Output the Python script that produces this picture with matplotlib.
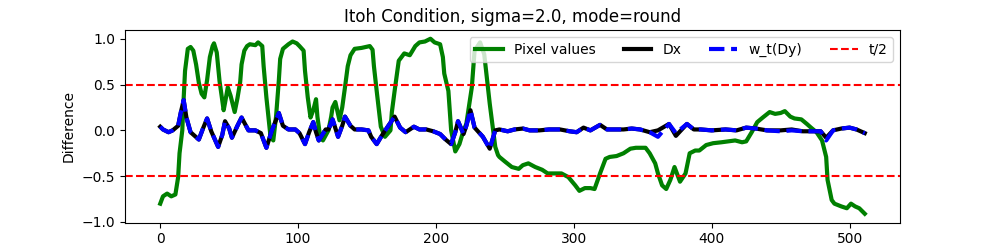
import matplotlib
matplotlib.use("Agg")
import matplotlib.pyplot as plt

# Pixel values (green)
px_x = [0, 2, 5, 7, 8, 11, 13, 14, 16, 17, 18, 20, 22, 24, 26, 28, 30, 32, 34, 36, 38, 39, 41, 43,
        46, 47, 49, 51, 54, 56, 58, 59, 61, 63, 65, 69, 71, 74, 75, 77, 80, 82, 84, 86, 87, 89, 93,
        96, 99, 101, 104, 105, 107, 109, 111, 113, 114, 116, 118, 122, 124, 125, 127, 130, 132, 134,
        136, 138, 141, 146, 152, 154, 155, 157, 160, 163, 167, 168, 170, 172, 173, 177, 181, 185,
        188, 192, 196, 199, 203, 205, 206, 209, 211, 214, 217, 220, 222, 226, 228, 232, 235, 239,
        243, 245, 246, 250, 255, 260, 263, 267, 272, 277, 281, 286, 291, 296, 301, 304, 308, 312,
        315, 319, 323, 326, 331, 336, 341, 345, 352, 355, 359, 361, 364, 367, 370, 373, 377, 381,
        384, 388, 391, 396, 401, 407, 412, 417, 422, 425, 429, 433, 437, 442, 446, 450, 453, 457,
        460, 465, 469, 472, 476, 480, 483, 484, 487, 489, 494, 498, 501, 504, 507, 511]
px_v = [-0.80, -0.72, -0.69, -0.71, -0.72, -0.70, -0.51, -0.25, 0.00, 0.35, 0.65, 0.89, 0.91, 0.87,
        0.72, 0.52, 0.40, 0.36, 0.55, 0.80, 0.92, 0.95, 0.85, 0.54, 0.22, 0.30, 0.47, 0.38, 0.20,
        0.35, 0.53, 0.72, 0.87, 0.92, 0.94, 0.93, 0.96, 0.92, 0.70, 0.36, -0.07, -0.11, 0.15, 0.54,
        0.78, 0.89, 0.94, 0.97, 0.95, 0.92, 0.87, 0.65, 0.36, 0.14, 0.22, 0.34, 0.15, -0.07, -0.11,
        0.00, 0.15, 0.25, 0.31, 0.11, 0.25, 0.47, 0.70, 0.82, 0.89, 0.90, 0.92, 0.88, 0.70, 0.43,
        0.04, -0.07, 0.00, 0.20, 0.43, 0.65, 0.76, 0.84, 0.82, 0.92, 0.96, 0.97, 1.00, 0.96, 0.94,
        0.80, 0.62, 0.43, 0.00, -0.23, -0.15, 0.00, 0.07, 0.47, 0.87, 0.96, 0.83, 0.29, -0.18,
        -0.27, -0.29, -0.34, -0.40, -0.42, -0.38, -0.36, -0.40, -0.43, -0.47, -0.47, -0.47, -0.51,
        -0.60, -0.66, -0.63, -0.63, -0.64, -0.47, -0.31, -0.29, -0.28, -0.25, -0.20, -0.19, -0.19,
        -0.25, -0.36, -0.47, -0.60, -0.64, -0.54, -0.40, -0.56, -0.47, -0.25, -0.22, -0.22, -0.16,
        -0.14, -0.13, -0.12, -0.11, -0.13, -0.12, -0.02, 0.09, 0.14, 0.20, 0.18, 0.19, 0.21, 0.15,
        0.13, 0.12, 0.07, 0.03, -0.02, -0.11, -0.29, -0.54, -0.76, -0.80, -0.83, -0.85, -0.80,
        -0.83, -0.85, -0.91]

# Dx (black) and w_t(Dy) (blue) share sample positions
d_x = [0, 2, 6, 9, 13, 15, 17, 19, 22, 25, 28, 31, 34, 37, 42, 45, 47, 50, 52, 56, 59, 64, 69, 73,
       77, 81, 86, 89, 93, 98, 101, 105, 108, 111, 113, 115, 120, 122, 125, 129, 132, 134, 138, 141,
       146, 151, 153, 157, 161, 165, 170, 174, 178, 184, 188, 193, 198, 203, 207, 211, 214, 216, 220,
       222, 225, 228, 231, 234, 239, 243, 246, 252, 257, 263, 268, 275, 282, 290, 297, 302, 307, 312,
       319, 324, 330, 336, 342, 348, 355, 361, 369, 374, 382, 387, 392, 400, 410, 418, 425, 432, 440,
       450, 458, 466, 479, 483, 488, 494, 500, 505, 511]
dx_v = [0.04, 0.01, -0.02, 0.00, 0.05, 0.20, 0.33, 0.14, -0.02, -0.06, -0.10, 0.02, 0.13, -0.01,
        -0.18, -0.05, 0.10, 0.02, -0.08, 0.05, 0.14, 0.00, 0.00, -0.03, -0.19, 0.00, 0.19, 0.05,
        0.01, 0.01, -0.03, -0.15, -0.02, 0.09, -0.02, -0.11, 0.01, 0.01, 0.12, -0.07, 0.05, 0.15,
        0.05, 0.01, 0.01, 0.00, -0.07, -0.15, -0.05, 0.04, 0.15, 0.03, -0.02, 0.04, 0.01, 0.01,
        -0.01, -0.04, -0.10, -0.15, -0.02, 0.10, -0.04, 0.05, 0.22, 0.03, -0.02, -0.07, -0.20,
        0.00, 0.01, -0.01, 0.01, 0.02, 0.00, 0.00, 0.01, 0.01, -0.01, -0.02, 0.03, 0.00, 0.06,
        0.01, 0.01, 0.01, 0.02, 0.01, -0.02, 0.00, 0.07, -0.06, 0.07, 0.01, 0.01, 0.00, 0.01,
        0.00, 0.03, 0.02, 0.00, 0.00, 0.01, -0.01, -0.01, -0.08, 0.00, 0.02, 0.03, 0.01, -0.03]
dy_v = [0.04, 0.01, -0.02, 0.00, 0.05, 0.20, 0.33, 0.14, -0.02, -0.06, -0.10, 0.02, 0.13, -0.01,
        -0.18, -0.05, 0.10, 0.02, -0.08, 0.05, 0.14, 0.00, 0.00, -0.03, -0.19, 0.00, 0.19, 0.05,
        0.01, 0.01, -0.03, -0.15, -0.02, 0.09, -0.02, -0.11, 0.01, 0.01, 0.12, -0.07, 0.05, 0.15,
        0.05, 0.01, 0.01, 0.00, -0.07, -0.15, -0.05, 0.04, 0.15, 0.03, -0.02, 0.04, 0.01, 0.01,
        -0.01, -0.04, -0.10, -0.15, -0.02, 0.10, -0.04, 0.05, 0.22, 0.03, -0.02, -0.07, -0.20,
        0.00, 0.01, -0.01, 0.01, 0.02, 0.00, 0.00, 0.01, 0.01, -0.01, -0.02, 0.03, 0.00, 0.06,
        0.01, 0.01, 0.01, 0.02, 0.01, -0.02, -0.07, 0.07, -0.03, 0.07, 0.01, 0.01, 0.00, 0.01,
        0.00, 0.03, 0.02, 0.00, -0.01, 0.00, -0.01, -0.01, -0.11, 0.00, 0.02, 0.03, 0.01, -0.03]

threshold_half = 0.5

fig, ax = plt.subplots(figsize=(10, 2.5), dpi=100)
ax.plot(px_x, px_v, color="green", lw=3, label="Pixel values")
ax.plot(d_x, dx_v, color="black", lw=3, label="Dx")
ax.plot(d_x, dy_v, color="blue", lw=3, ls="--", label="w_t(Dy)")
ax.axhline(threshold_half, color="red", ls="--", lw=1.5, label="t/2")
ax.axhline(-threshold_half, color="red", ls="--", lw=1.5)
ax.set_title("Itoh Condition, sigma=2.0, mode=round")
ax.set_ylabel("Difference")
ax.legend(loc="upper right", ncol=4)
fig.savefig("out.png", dpi=100)
